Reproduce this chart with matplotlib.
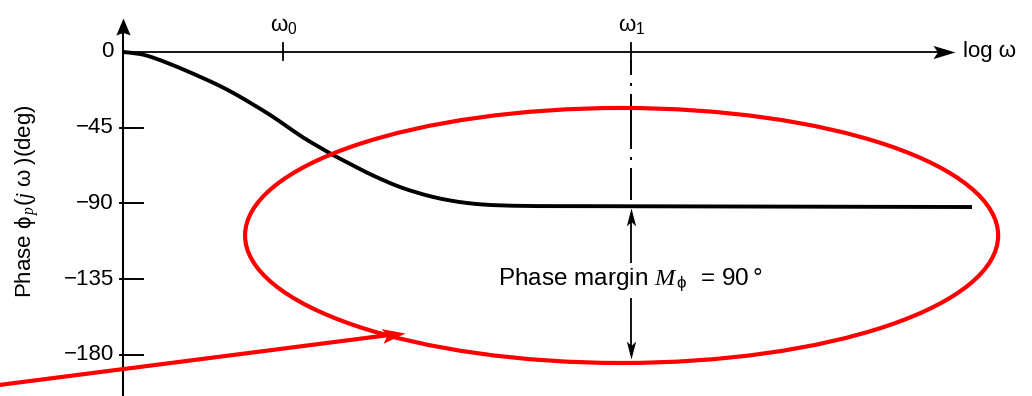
import numpy as np
import matplotlib
matplotlib.use("Agg")
import matplotlib.pyplot as plt
from matplotlib.path import Path
from matplotlib.markers import MarkerStyle
from matplotlib.transforms import Affine2D
from matplotlib.patches import Ellipse, PathPatch

plt.rcParams["font.family"] = ["Liberation Sans", "DejaVu Sans"]
plt.rcParams["mathtext.fontset"] = "custom"
plt.rcParams["mathtext.rm"] = "Liberation Sans"
plt.rcParams["mathtext.it"] = "Liberation Serif:italic"
plt.rcParams["mathtext.sf"] = "Liberation Sans"
plt.rcParams["lines.scale_dashes"] = False

# ---- data: x is log10(omega / omega0), y is phase in degrees ----
log_w = [-0.460, -0.411, -0.374, -0.325, -0.276, -0.230, -0.181, -0.132,
         -0.086, -0.037, 0.012, 0.058, 0.106, 0.144, 0.193, 0.241, 0.287,
         0.336, 0.385, 0.431, 0.480, 0.529, 0.575, 0.624, 0.718, 0.911,
         1.980]
phase = [0.0, -1.2, -3.3, -7.1, -11.3, -15.5, -20.2, -25.6, -31.2, -37.4,
         -44.3, -50.8, -56.7, -61.2, -66.5, -71.6, -76.0, -80.2, -83.5,
         -86.1, -88.2, -89.7, -90.6, -91.1, -91.5, -91.6, -92.1]

y_ticks = [0, -45, -90, -135, -180]
y_tick_labels = ["0", "\u221245", "\u221290", "\u2212135", "\u2212180"]
w_ticks = [0.0, 1.0]
w_tick_labels = [r"$\mathrm{\omega}_0$", r"$\mathrm{\omega}_1$"]
phase_margin = 90

x_origin = -0.46
x_arrow_tip = 1.931
y_arrow_tip = 20.2

# highlight ellipse (center, width, height) and pointer arrow
ell_center = (0.973, -109.0)
ell_size = (2.164, 151.5)
pointer_start = (-0.83, -198.2)
pointer_tip = (0.351, -166.9)

W, H = 1032, 396
fig = plt.figure(figsize=(W / 100, H / 100), dpi=100)
ax = fig.add_axes([0, 0, 1, 1])
ax.set_xlim(-0.8132, 2.1523)
ax.set_ylim(-204.36, 30.89)
ax.axis("off")

px_per_pt = 100 / 72.0


def head_marker(angle, r=0.3, notch=0.78):
    verts = [(0, 0), (-1, r), (-notch, 0), (-1, -r), (0, 0)]
    codes = [Path.MOVETO, Path.LINETO, Path.LINETO, Path.LINETO, Path.CLOSEPOLY]
    return MarkerStyle(Path(verts, codes), transform=Affine2D().rotate_deg(angle))


def arrow(p0, p1, color, lw, head_len_px, r=0.3, notch=0.78, z=3):
    d0 = ax.transData.transform(p0)
    d1 = ax.transData.transform(p1)
    v = d1 - d0
    L = np.hypot(*v)
    ang = np.degrees(np.arctan2(v[1], v[0]))
    stop = d1 - v / L * head_len_px * 0.7
    stop_data = ax.transData.inverted().transform(stop)
    ax.plot([p0[0], stop_data[0]], [p0[1], stop_data[1]], color=color, lw=lw,
            solid_capstyle="butt", zorder=z)
    ax.plot([p1[0]], [p1[1]], linestyle="none",
            marker=head_marker(ang, r, notch),
            markersize=2 * head_len_px / px_per_pt, color=color,
            markeredgewidth=0, zorder=z + 0.1)


def smooth_path(xs, ys):
    """Cubic Bezier path passing through every (x, y) pair (Catmull-Rom tangents)."""
    pts = np.column_stack([xs, ys])
    verts = [pts[0]]
    codes = [Path.MOVETO]
    n = len(pts)
    for i in range(n - 1):
        p0 = pts[i - 1] if i > 0 else pts[i]
        p1, p2 = pts[i], pts[i + 1]
        p3 = pts[i + 2] if i + 2 < n else pts[i + 1]
        c1 = p1 + (p2 - p0) / 6.0
        c2 = p2 - (p3 - p1) / 6.0
        verts += [c1, c2, p2]
        codes += [Path.CURVE4] * 3
    return Path(verts, codes)


# axes with arrowheads
arrow((x_origin, -206), (x_origin, y_arrow_tip), "black", 1.5, 17, r=0.42, notch=0.85)
arrow((x_origin, 0), (x_arrow_tip, 0), "black", 1.3, 22, r=0.3, notch=0.8)

# y ticks and labels
for yt, lab in zip(y_ticks, y_tick_labels):
    if yt != 0:
        ax.plot([x_origin - 0.009, x_origin + 0.057], [yt, yt], color="black", lw=1.4)
    ax.text(x_origin - 0.026, yt, lab, ha="right", va="center", fontsize=16)

# omega ticks and labels
for xt, lab in zip(w_ticks, w_tick_labels):
    ax.plot([xt, xt], [5.3, -4.5], color="black", lw=1.3)
    ax.text(xt + 0.003, 16.0, lab, ha="center", va="center", fontsize=16)

ax.text(1.954, 0.3, "log \u03c9", ha="left", va="center", fontsize=16)

ax.text(-0.7356, -88.5, r"Phase $\mathrm{\phi}_{\,p}(j\ \mathrm{\omega}\ )$(deg)",
        rotation=90, ha="center", va="center", fontsize=16)

# phase curve
ax.add_patch(PathPatch(smooth_path(log_w, phase), fill=False, edgecolor="black",
                       lw=2.8, capstyle="butt", zorder=4))

# dash-dot guide at omega1
w1 = w_ticks[1]
phase_w1 = float(np.interp(w1, log_w, phase))
ax.plot([w1, w1], [-4.75, phase_w1 + 3.5], color="black", lw=1.4,
        linestyle=(28.8, (39.6, 5.76, 2.16, 5.76)), zorder=2)

# phase-margin double arrow and label
top = phase_w1 - 1.0
bottom = top - phase_margin
label_y = -135
arrow((w1, label_y + 9.5), (w1, top), "black", 1.3, 18, r=0.26, notch=0.75)
arrow((w1, label_y - 11), (w1, bottom), "black", 1.3, 18, r=0.26, notch=0.75)
ax.text(w1, label_y, "Phase margin $M_{\\,\\mathrm{\\phi}}$  = 90\u2009\u00b0",
        ha="center", va="center", fontsize=17.5)

# red highlight
ax.add_patch(Ellipse(ell_center, ell_size[0], ell_size[1], fill=False,
                     edgecolor="#ff0000", lw=3.0, zorder=5))
arrow(pointer_start, pointer_tip, "#ff0000", 3.0, 23, r=0.32, notch=0.8, z=6)

fig.savefig("out.png", dpi=100)
